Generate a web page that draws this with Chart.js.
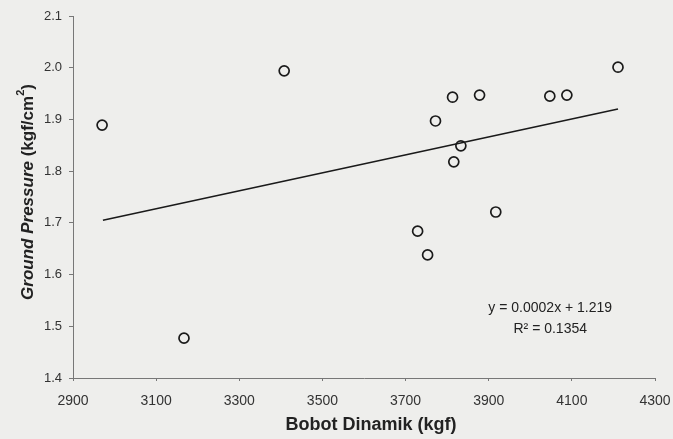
<!DOCTYPE html>
<html>
<head>
<meta charset="utf-8">
<script src="https://cdn.jsdelivr.net/npm/chart.js@4"></script>
<style>
  html, body { margin: 0; padding: 0; background: #eeeeec; }
  #wrap { width: 673px; height: 439px; }
</style>
</head>
<body>
<div id="wrap"><canvas id="chart" width="673" height="439"></canvas></div>
<script>
// data
const bobotX = [2970, 3167, 3408, 3729, 3753, 3772, 3813, 3816, 3833, 3878, 3917, 4047, 4088, 4211];
const pressureY = [1.889, 1.477, 1.994, 1.684, 1.638, 1.897, 1.943, 1.818, 1.849, 1.947, 1.721, 1.945, 1.947, 2.001];
const trendX = [2972, 4211];
const trendY = [1.705, 1.920];
const eqLines = ["y = 0.0002x + 1.219", "R² = 0.1354"];

const points = bobotX.map((x, i) => ({ x: x, y: pressureY[i] }));
const trend = trendX.map((x, i) => ({ x: x, y: trendY[i] }));

const textFont = "'Liberation Sans', Arial, sans-serif";

const labelsPlugin = {
    id: 'labels',
    afterDraw(chart) {
        const ctx = chart.ctx;
        const xs = chart.scales.x, ys = chart.scales.y;
        ctx.save();
        ctx.fillStyle = '#222';

        // equation + R2
        ctx.font = "14px " + textFont;
        ctx.textAlign = 'center';
        ctx.textBaseline = 'middle';
        const ex = xs.getPixelForValue(4048);
        ctx.fillText(eqLines[0], ex, ys.getPixelForValue(1.5355));
        ctx.fillText(eqLines[1], ex, ys.getPixelForValue(1.495));

        // x title
        ctx.font = "bold 18px " + textFont;
        ctx.fillText("Bobot Dinamik (kgf)", 371, 425);

        // y title: italic part + normal part with superscript
        ctx.translate(28, 192);
        ctx.rotate(-Math.PI / 2);
        const p1 = "Ground Pressure", p2 = " (kgf/cm", p3 = "2", p4 = ")";
        const f1 = "italic bold 17px " + textFont, f2 = "bold 17px " + textFont, f3 = "bold 11px " + textFont;
        ctx.font = f1; const w1 = ctx.measureText(p1).width;
        ctx.font = f2; const w2 = ctx.measureText(p2).width; const w4 = ctx.measureText(p4).width;
        ctx.font = f3; const w3 = ctx.measureText(p3).width;
        let cx = -(w1 + w2 + w3 + w4) / 2;
        ctx.textAlign = 'left';
        ctx.font = f1; ctx.fillText(p1, cx, 0); cx += w1;
        ctx.font = f2; ctx.fillText(p2, cx, 0); cx += w2;
        ctx.font = f3; ctx.fillText(p3, cx, -7); cx += w3;
        ctx.font = f2; ctx.fillText(p4, cx, 0);
        ctx.restore();
    }
};

new Chart(document.getElementById('chart'), {
    type: 'scatter',
    data: {
        datasets: [
            {
                label: 'Ground Pressure',
                data: points,
                pointStyle: 'circle',
                pointRadius: 5,
                pointBorderWidth: 1.7,
                borderColor: '#1a1a1a',
                backgroundColor: 'rgba(0,0,0,0)'
            },
            {
                label: 'Linear',
                data: trend,
                showLine: true,
                borderColor: '#1a1a1a',
                borderWidth: 1.6,
                pointRadius: 0
            }
        ]
    },
    options: {
        responsive: false,
        animation: false,
        layout: { padding: { left: 0, right: 18, top: 16, bottom: 0 } },
        plugins: {
            legend: { display: false },
            tooltip: { enabled: false }
        },
        scales: {
            x: {
                min: 2900,
                max: 4300,
                afterFit: s => { s.height = 61; s.paddingLeft = 0; s.paddingRight = 0; },
                ticks: { stepSize: 200, color: '#333', font: { size: 14, family: textFont }, padding: 12, maxRotation: 0,
                    callback: v => String(v) },
                grid: { drawOnChartArea: false, tickLength: 3, color: '#777' },
                border: { color: '#777', dash: [2, 1] }
            },
            y: {
                min: 1.4,
                max: 2.1,
                afterFit: s => { s.width = 73; s.paddingTop = 0; s.paddingBottom = 0; },
                ticks: { stepSize: 0.1, color: '#333', font: { size: 13, family: textFont }, padding: 7,
                    callback: v => v.toFixed(1) },
                grid: { drawOnChartArea: false, tickLength: 4, color: '#777' },
                border: { color: '#777', dash: [2, 1] }
            }
        }
    },
    plugins: [labelsPlugin]
});
</script>
</body>
</html>
